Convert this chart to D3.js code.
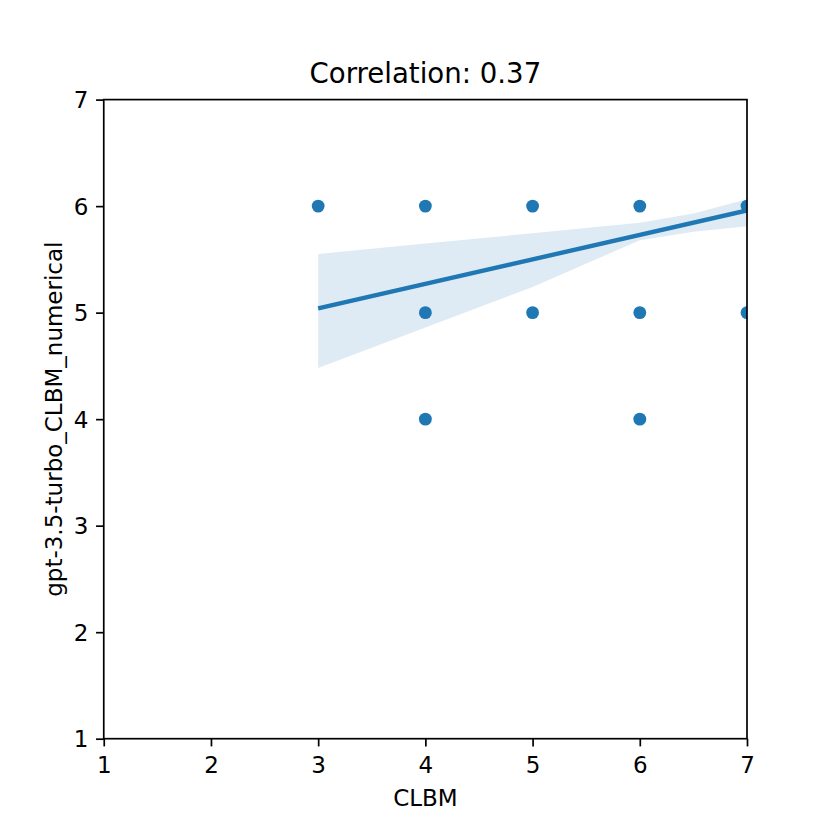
<!DOCTYPE html>
<html>
<head>
<meta charset="utf-8">
<script src="https://cdn.jsdelivr.net/npm/d3@7"></script>
<style>
  html, body { margin: 0; padding: 0; background: #ffffff; }
  svg { display: block; }
</style>
</head>
<body>
<svg id="chart" width="830" height="830"></svg>
<script>
// ---- data ----
const titleText = "Correlation: 0.37";
const xLabel = "CLBM";
const yLabel = "gpt-3.5-turbo_CLBM_numerical";
const tickValues = [1, 2, 3, 4, 5, 6, 7];
const pointX = [3, 4, 5, 6, 7, 4, 5, 6, 7, 4, 6];
const pointY = [6, 6, 6, 6, 6, 5, 5, 5, 5, 4, 4];
const fitX = [3, 7];
const fitY = [5.04, 5.96];
const bandX = [3, 4, 5, 6, 6.5, 7];
const bandUpper = [5.55, 5.65, 5.745, 5.845, 5.93, 6.065];
const bandLower = [4.48, 4.86, 5.24, 5.68, 5.76, 5.81];

(function () {
// ---- layout ----
const W = 830, H = 830;
const mLeft = 103.75, mRight = 747, mTop = 99.6, mBottom = 738.7;
const blue = "#1f77b4";
const font = "DejaVu Sans";

const svg = d3.select("#chart");
svg.append("rect").attr("width", W).attr("height", H).attr("fill", "#fff");

const x = d3.scaleLinear().domain([1, 7]).range([mLeft, mRight]);
const y = d3.scaleLinear().domain([1, 7]).range([mBottom, mTop]);

// clip to axes
svg.append("clipPath").attr("id", "clip")
  .append("rect").attr("x", mLeft).attr("y", mTop)
  .attr("width", mRight - mLeft).attr("height", mBottom - mTop);

const plot = svg.append("g").attr("clip-path", "url(#clip)");

// CI band
const bandData = bandX.map((v, i) => ({ x: v, lo: bandLower[i], hi: bandUpper[i] }));
plot.append("path")
  .datum(bandData)
  .attr("d", d3.area().x(d => x(d.x)).y0(d => y(d.lo)).y1(d => y(d.hi)))
  .attr("fill", blue).attr("fill-opacity", 0.15).attr("stroke", "none");

// scatter points
plot.selectAll("circle.pt")
  .data(pointX.map((v, i) => ({ x: v, y: pointY[i] })))
  .enter().append("circle")
  .attr("class", "pt")
  .attr("cx", d => x(d.x)).attr("cy", d => y(d.y))
  .attr("r", 6.4).attr("fill", blue);

// regression line
plot.append("path")
  .datum(fitX.map((v, i) => ({ x: v, y: fitY[i] })))
  .attr("d", d3.line().x(d => x(d.x)).y(d => y(d.y)))
  .attr("fill", "none").attr("stroke", blue).attr("stroke-width", 4.4)
  .attr("stroke-linecap", "butt");

// axes
const tickLen = 7.7;
const xAxis = d3.axisBottom(x).tickValues(tickValues).tickFormat(d3.format("d"))
  .tickSize(tickLen).tickSizeOuter(0).tickPadding(9.8);
const yAxis = d3.axisLeft(y).tickValues(tickValues).tickFormat(d3.format("d"))
  .tickSize(tickLen).tickSizeOuter(0).tickPadding(7.7);

const gx = svg.append("g").attr("transform", `translate(0,${mBottom})`).call(xAxis);
const gy = svg.append("g").attr("transform", `translate(${mLeft},0)`).call(yAxis);

[gx, gy].forEach(g => {
  g.select(".domain").remove();
  g.selectAll(".tick line").attr("stroke", "#000").attr("stroke-width", 1.7);
  g.selectAll(".tick text").attr("fill", "#000")
    .style("font-family", font).style("font-size", "23px");
});
gy.selectAll(".tick text").attr("dy", "0.36em");

// spines
svg.append("rect")
  .attr("x", mLeft).attr("y", mTop)
  .attr("width", mRight - mLeft).attr("height", mBottom - mTop)
  .attr("fill", "none").attr("stroke", "#000").attr("stroke-width", 1.7);

// title
svg.append("text")
  .attr("x", (mLeft + mRight) / 2).attr("y", 83)
  .attr("text-anchor", "middle")
  .style("font-family", font).style("font-size", "27.6px")
  .text(titleText);

// x label
svg.append("text")
  .attr("x", (mLeft + mRight) / 2).attr("y", 805.5)
  .attr("text-anchor", "middle")
  .style("font-family", font).style("font-size", "23px")
  .text(xLabel);

// y label
svg.append("text")
  .attr("transform", `translate(62,${(mTop + mBottom) / 2}) rotate(-90)`)
  .attr("text-anchor", "middle")
  .style("font-family", font).style("font-size", "23px")
  .text(yLabel);
})();
</script>
</body>
</html>
